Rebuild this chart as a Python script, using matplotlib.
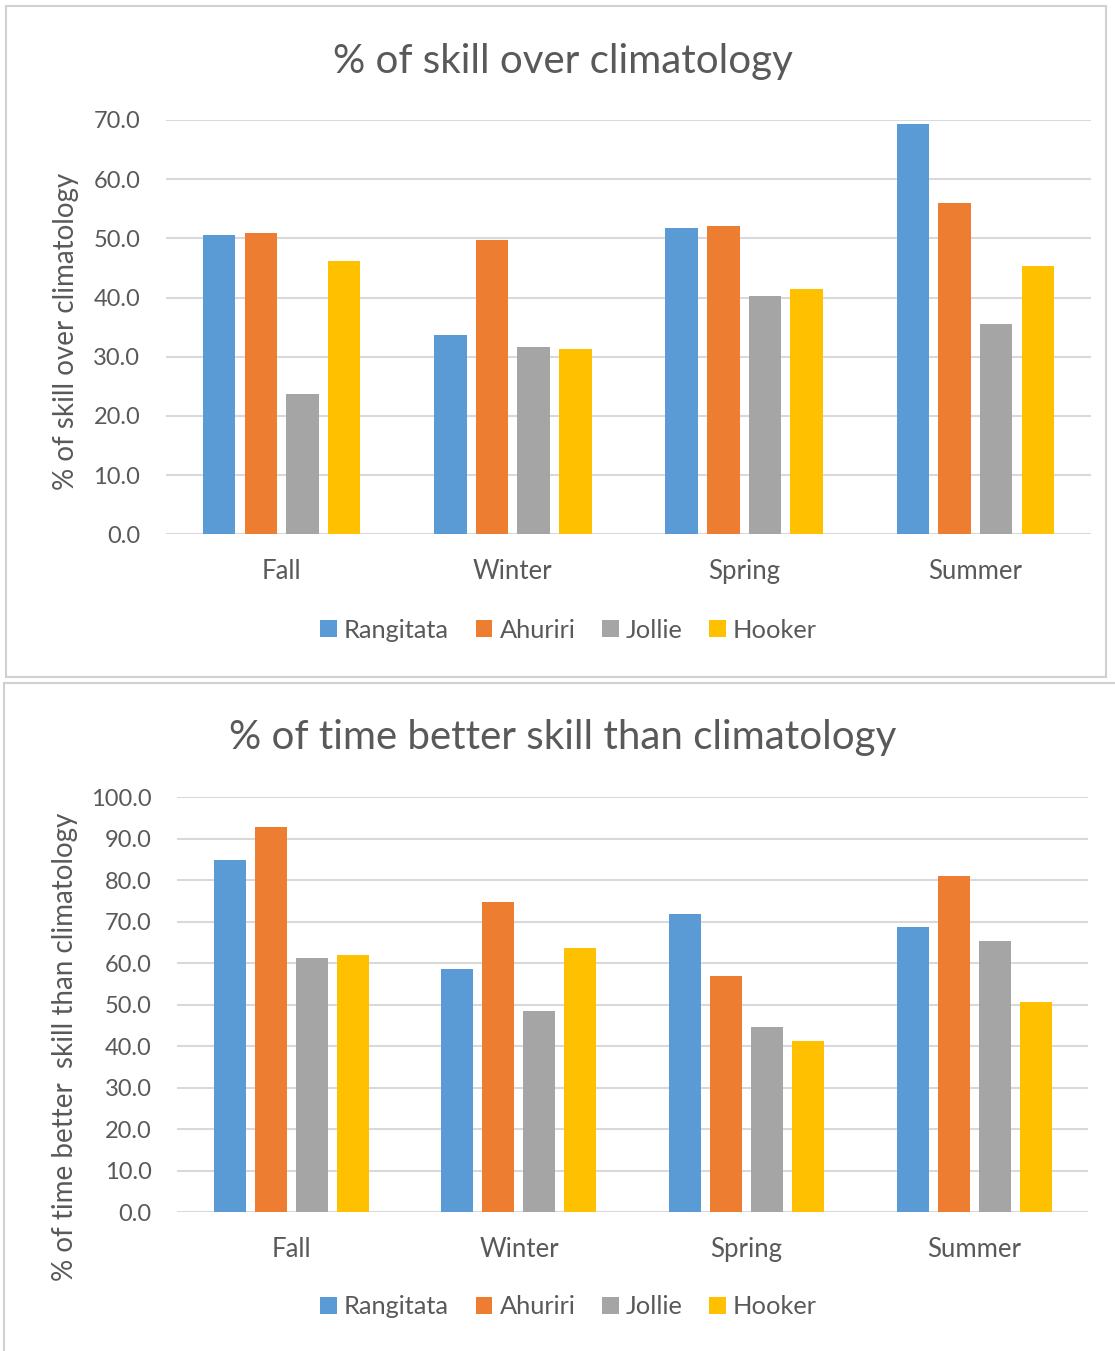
import matplotlib
matplotlib.use("Agg")
import matplotlib.pyplot as plt
from matplotlib.patches import Patch, Rectangle
import numpy as np

plt.rcParams['font.family'] = ['Lato', 'DejaVu Sans']

seasons = ["Fall", "Winter", "Spring", "Summer"]
rivers = ["Rangitata", "Ahuriri", "Jollie", "Hooker"]
colors = ["#5b9bd5", "#ed7d31", "#a5a5a5", "#ffc000"]

# % of skill over climatology, one list per river (Fall, Winter, Spring, Summer)
skill_rangitata = [50.5, 33.6, 51.7, 69.4]
skill_ahuriri = [50.9, 49.7, 52.1, 56.0]
skill_jollie = [23.7, 31.6, 40.3, 35.6]
skill_hooker = [46.2, 31.3, 41.5, 45.4]

# % of time with better skill than climatology
time_rangitata = [85.0, 58.6, 72.0, 68.7]
time_ahuriri = [92.8, 74.8, 56.9, 81.0]
time_jollie = [61.3, 48.6, 44.6, 65.3]
time_hooker = [62.0, 63.7, 41.2, 50.7]

skill_ticks = [0, 10, 20, 30, 40, 50, 60, 70]
time_ticks = [0, 10, 20, 30, 40, 50, 60, 70, 80, 90, 100]

W, H = 1115, 1351
fig = plt.figure(figsize=(W / 100, H / 100), dpi=100)
fig.patch.set_facecolor("white")

text_color = "#595959"
grid_color = "#d9d9d9"


def fx(px):
    return px / W


def fy(py):
    return 1 - py / H


# panel frames
fig.add_artist(Rectangle((fx(6), fy(677)), fx(1106) - fx(6), fy(6) - fy(677),
                         transform=fig.transFigure, fill=False,
                         edgecolor="#d0d0d0", lw=1.5))
fig.add_artist(Rectangle((fx(4), fy(1360)), fx(1130) - fx(4), fy(683) - fy(1360),
                         transform=fig.transFigure, fill=False,
                         edgecolor="#d0d0d0", lw=1.5))


def draw_panel(rect, series, ticks, title, ylabel, title_y, ylabel_x, ylabel_y,
               legend_y):
    ax = fig.add_axes(rect)
    x = np.arange(len(seasons))
    pitch = 0.180
    width = 0.1405
    for j, (vals, c) in enumerate(zip(series, colors)):
        ax.bar(x + (j - 1.5) * pitch, vals, width=width, color=c, zorder=3)
    ax.set_xlim(-0.5, len(seasons) - 0.5)
    ax.set_ylim(ticks[0], ticks[-1])
    ax.set_yticks(ticks)
    ax.set_yticklabels([f"{t:.1f}" for t in ticks])
    ax.set_xticks(x)
    ax.set_xticklabels(seasons)
    ax.grid(axis="y", color=grid_color, lw=1.5, zorder=0)
    for s in ax.spines.values():
        s.set_visible(False)
    ax.axhline(0, color=grid_color, lw=1.8, zorder=2)
    ax.tick_params(axis="y", length=0, pad=18.5, labelsize=17, labelcolor=text_color)
    ax.tick_params(axis="x", length=0, pad=17.5, labelsize=18.5, labelcolor=text_color)
    fig.text(0.505, fy(title_y), title, ha="center", va="center",
             fontsize=29, color=text_color)
    fig.text(fx(ylabel_x), fy(ylabel_y), ylabel, rotation=90,
             ha="center", va="center", fontsize=20, color=text_color)
    handles = [Patch(facecolor=c, label=r) for c, r in zip(colors, rivers)]
    fig.legend(handles=handles, loc="center", bbox_to_anchor=(0.510, fy(legend_y)),
               ncol=4, frameon=False, fontsize=18.3, labelcolor=text_color,
               handlelength=0.65, handleheight=0.65, handletextpad=0.28,
               columnspacing=1.05)
    return ax


top_rect = [fx(166), fy(534.3), (1091 - 166) / W, 414.3 / H]
draw_panel(top_rect,
           [skill_rangitata, skill_ahuriri, skill_jollie, skill_hooker],
           skill_ticks, "% of skill over climatology",
           "% of skill over climatology", 61, 66, 331, 630)

bot_rect = [fx(177.3), fy(1212.3), (1088.3 - 177.3) / W, 415 / H]
draw_panel(bot_rect,
           [time_rangitata, time_ahuriri, time_jollie, time_hooker],
           time_ticks, "% of time better skill than climatology",
           "% of time better  skill than climatology", 738, 65, 1047, 1307)

fig.savefig("out.png", dpi=100, facecolor="white")
